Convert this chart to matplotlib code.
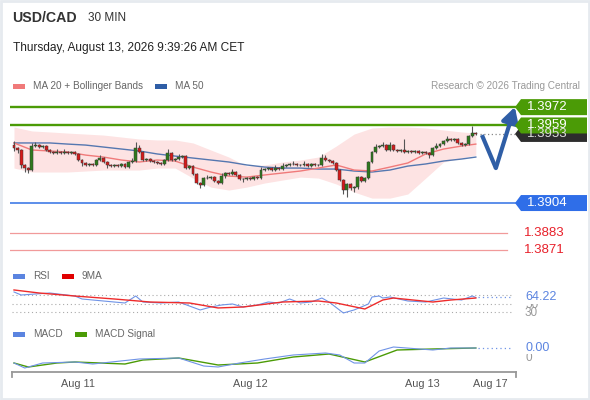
import matplotlib
matplotlib.use('Agg')
import matplotlib.pyplot as plt
import numpy as np
from matplotlib.patches import Polygon, Rectangle
from matplotlib.transforms import blended_transform_factory

plt.rcParams['font.family'] = ['Liberation Sans', 'DejaVu Sans']

# USD/CAD 30 min candles (closes)
closes = [1.39430, 1.39416, 1.39310, 1.39288, 1.39274, 1.39444, 1.39451, 1.39437, 1.39444, 1.39416,
          1.39402, 1.39395, 1.39402, 1.39395, 1.39402, 1.39395, 1.39402, 1.39388, 1.39345, 1.39324,
          1.39310, 1.39317, 1.39310, 1.39345, 1.39359, 1.39331, 1.39310, 1.39302, 1.39310, 1.39302,
          1.39317, 1.39295, 1.39331, 1.39338, 1.39430, 1.39402, 1.39345, 1.39352, 1.39338, 1.39331,
          1.39324, 1.39317, 1.39345, 1.39395, 1.39345, 1.39352, 1.39366, 1.39373, 1.39288, 1.39302,
          1.39246, 1.39182, 1.39168, 1.39217, 1.39217, 1.39224, 1.39196, 1.39182, 1.39231, 1.39253,
          1.39246, 1.39260, 1.39239, 1.39210, 1.39210, 1.39217, 1.39210, 1.39224, 1.39217, 1.39274,
          1.39281, 1.39288, 1.39274, 1.39288, 1.39281, 1.39302, 1.39310, 1.39317, 1.39317, 1.39310,
          1.39310, 1.39317, 1.39302, 1.39317, 1.39310, 1.39310, 1.39359, 1.39345, 1.39338, 1.39324,
          1.39274, 1.39203, 1.39132, 1.39175, 1.39146, 1.39153, 1.39224, 1.39196, 1.39217, 1.39331,
          1.39402, 1.39437, 1.39444, 1.39451, 1.39416, 1.39451, 1.39416, 1.39409, 1.39416, 1.39402,
          1.39409, 1.39402, 1.39409, 1.39395, 1.39402, 1.39395, 1.39380, 1.39430, 1.39444, 1.39458,
          1.39480, 1.39494, 1.39487, 1.39494, 1.39466, 1.39451, 1.39458, 1.39515, 1.39536, 1.39529]
first_open = 1.39451
# wick lengths in pips above / below the body
up_wick = [3, 1, 1, 1, 1, 2, 2, 1, 1, 1,
           1, 1, 2, 1, 2, 1, 1, 1, 1, 1,
           1, 1, 1, 1, 2, 1, 1, 1, 1, 1,
           1, 1, 1, 2, 4, 2, 1, 1, 1, 1,
           1, 1, 1, 3, 1, 1, 2, 1, 1, 1,
           1, 1, 1, 1, 2, 1, 1, 1, 2, 1,
           1, 2, 1, 1, 1, 1, 1, 1, 1, 2,
           1, 1, 1, 2, 1, 2, 1, 1, 2, 1,
           1, 2, 1, 1, 1, 1, 3, 2, 1, 1,
           1, 1, 1, 1, 1, 1, 1, 1, 1, 1,
           1, 2, 1, 2, 1, 2, 1, 1, 1, 8,
           1, 1, 1, 1, 1, 1, 1, 1, 2, 1,
           1, 2, 1, 1, 1, 1, 1, 1, 5, 1]
low_wick = [2, 2, 2, 3, 2, 1, 1, 1, 1, 1,
            1, 1, 1, 1, 1, 1, 1, 1, 1, 2,
            1, 1, 1, 1, 1, 1, 2, 1, 1, 1,
            1, 1, 1, 1, 1, 1, 1, 1, 1, 1,
            1, 1, 1, 1, 1, 1, 1, 1, 1, 1,
            1, 1, 2, 1, 1, 1, 1, 1, 1, 1,
            1, 1, 1, 1, 2, 1, 1, 1, 1, 1,
            1, 1, 1, 1, 1, 1, 1, 1, 1, 1,
            1, 1, 1, 1, 1, 1, 1, 1, 1, 1,
            1, 1, 3, 5, 1, 3, 1, 1, 1, 1,
            1, 1, 1, 1, 1, 1, 1, 1, 1, 1,
            1, 1, 1, 1, 1, 1, 2, 1, 1, 1,
            1, 1, 1, 1, 1, 1, 1, 1, 1, 1]

# moving averages and bollinger bands, sampled every 5 candles
ma_idx = [0, 5, 10, 15, 20, 25, 30, 35, 40, 45, 50, 55, 60, 65, 70, 75, 80, 85, 90, 95,
          100, 105, 110, 115, 120, 125, 129]
ma20 = [1.39466, 1.39416, 1.39409, 1.39402, 1.39380, 1.39366, 1.39345, 1.39331, 1.39345, 1.39338,
        1.39295, 1.39260, 1.39231, 1.39224, 1.39239, 1.39253, 1.39267, 1.39288, 1.39310, 1.39274,
        1.39267, 1.39295, 1.39324, 1.39388, 1.39423, 1.39444, 1.39458]
ma50 = [1.39466, 1.39466, 1.39466, 1.39458, 1.39451, 1.39437, 1.39423, 1.39409, 1.39388, 1.39373,
        1.39359, 1.39345, 1.39331, 1.39310, 1.39295, 1.39288, 1.39288, 1.39281, 1.39281, 1.39267,
        1.39260, 1.39274, 1.39302, 1.39317, 1.39338, 1.39352, 1.39366]
bb_up = [1.39579, 1.39551, 1.39544, 1.39536, 1.39529, 1.39522, 1.39508, 1.39494, 1.39487, 1.39487,
         1.39466, 1.39416, 1.39366, 1.39302, 1.39310, 1.39331, 1.39345, 1.39366, 1.39444, 1.39529,
         1.39572, 1.39579, 1.39579, 1.39572, 1.39558, 1.39544, 1.39536]
bb_low = [1.39288, 1.39260, 1.39260, 1.39260, 1.39267, 1.39274, 1.39274, 1.39274, 1.39288, 1.39288,
          1.39217, 1.39153, 1.39132, 1.39153, 1.39182, 1.39203, 1.39224, 1.39217, 1.39175, 1.39118,
          1.39075, 1.39075, 1.39104, 1.39217, 1.39331, 1.39359, 1.39380]

resistances = [1.3972, 1.3959]
support = 1.3904
extra_levels = [1.3883, 1.3871]
last_price = 1.3953

rsi_idx = [0, 2, 10, 17, 19, 28, 31, 34, 36, 41, 46, 49, 52, 55, 58, 61, 64, 68, 71, 74,
           77, 80, 83, 86, 88, 92, 95, 97, 99, 100, 102, 103, 105, 110, 115, 120, 125, 128, 129]
rsi_val = [77.1, 70.0, 74.7, 67.6, 60.6, 53.5, 51.2, 67.6, 53.5, 51.2, 53.5, 44.1, 34.8, 41.8,
           46.5, 48.9, 41.8, 46.5, 53.5, 51.2, 60.6, 51.2, 53.5, 62.9, 53.5, 27.7, 34.8, 41.8,
           48.9, 65.3, 67.6, 62.9, 65.3, 55.9, 53.5, 62.9, 58.2, 67.6, 64.22]
rsi_ma_idx = [0, 7, 17, 28, 38, 49, 57, 64, 75, 85, 90, 98, 103, 106, 117, 122, 129]
rsi_ma_val = [81.8, 74.7, 67.6, 60.6, 53.5, 51.2, 39.5, 41.8, 53.5, 55.9, 51.2, 37.1, 58.2,
              62.9, 53.5, 58.2, 62.9]

macd_idx = [0, 3, 8, 17, 22, 35, 46, 53, 57, 63, 70, 78, 87, 91, 95, 98, 102, 106, 117, 122, 129]
macd_val = [-0.00006, -0.00011, -0.00006, -0.00005, -0.00007, -0.00002, -0.00001, -0.00009,
            -0.00010, -0.00006, -0.00002, 0.00002, 0.00004, 0.00002, -0.00006, -0.00006,
            0.00006, 0.00010, 0.00007, 0.00009, 0.00009]
sig_idx = [0, 4, 12, 17, 31, 36, 46, 57, 68, 78, 88, 98, 107, 117, 129]
sig_val = [-0.00006, -0.00010, -0.00006, -0.00005, -0.00007, -0.00003, -0.00001, -0.00008,
           -0.00006, 0.0, 0.00003, -0.00005, 0.00007, 0.00008, 0.00009]

day_idx = [17.9, 65.9, 114.0, 133.0]
day_labels = ['Aug 11', 'Aug 12', 'Aug 13', 'Aug 17']

W, H = 590, 400
X0, STEP = 14, 3.58
xlim = ((10 - X0) / STEP, (590 - X0) / STEP)

fig = plt.figure(figsize=(W / 100, H / 100), dpi=100)
fig.patch.set_facecolor('white')


def px_axes(x0, y0, x1, y1):
    a = fig.add_axes([x0 / W, 1 - y1 / H, (x1 - x0) / W, (y1 - y0) / H])
    a.set_xlim(*xlim)
    a.axis('off')
    return a


GREEN = '#4b9b06'
BLUE = '#2f6ee8'
CAND_G = '#2e7a1c'
CAND_R = '#d61a1a'

# ---- price panel ----
ax = px_axes(10, 95, 590, 262)
ax.set_ylim(1.38622, 1.39806)

ax.fill_between(ma_idx, bb_low, bb_up, color='#fde3e3', lw=0, zorder=1)
ax.plot(ma_idx, ma50, color='#5577b0', lw=1, zorder=2)
ax.plot(ma_idx, ma20, color='#f07a7a', lw=1, zorder=2)

idx = np.arange(len(closes))
c = np.array(closes)
o = np.array([first_open] + closes[:-1])
hi = np.maximum(o, c) + np.array(up_wick) * 1e-4
lo = np.minimum(o, c) - np.array(low_wick) * 1e-4
ax.vlines(idx, lo, hi, color='#555555', lw=0.8, zorder=3)
flat = np.abs(c - o) < 4e-5
body = np.where(flat, 4e-5, c - o)
cols = [CAND_G if cc >= oo else CAND_R for cc, oo in zip(c, o)]
ax.bar(idx, body, bottom=np.where(flat, o - 2e-5, o), width=0.82,
       color=cols, edgecolor='#3a3a3a', linewidth=0.35, zorder=4)

line_end = (515 - 10) / 580
for lv in resistances:
    ax.axhline(lv, xmin=0, xmax=line_end, color=GREEN, lw=1.7, zorder=2)
ax.axhline(support, xmin=0, xmax=line_end, color='#4f86e8', lw=1.3, zorder=2)
for lv in extra_levels:
    ax.axhline(lv, xmin=0, xmax=(507 - 10) / 580, color='#f19a9a', lw=0.9, zorder=2)
ax.axhline(last_price, xmin=(480 - 10) / 580, xmax=line_end, color='#888888', lw=0.9,
           ls=(0, (1, 2)), zorder=2)

# forecast arrow
ax.plot([130.7, 134.6], [1.39522, 1.39288], color='#2f5ea6', lw=3, solid_capstyle='butt',
        zorder=5)
ax.annotate('', xy=(139.9, 1.39721), xytext=(134.6, 1.39288),
            arrowprops=dict(arrowstyle='-|>,head_width=0.5,head_length=0.9', lw=3,
                            color='#2f5ea6', shrinkA=0, shrinkB=0), zorder=5)

# price tags
ov = fig.add_axes([0, 0, 1, 1])
ov.set_xlim(0, W)
ov.set_ylim(H, 0)
ov.axis('off')
ov.patch.set_alpha(0)
bt = blended_transform_factory(ov.transData, ax.transData)
hh = 8 / 1.41 * 1e-4


def tag(price, face, txt_color='white'):
    pts = [(515, price), (521, price + hh), (587, price + hh), (587, price - hh), (521, price - hh)]
    ax.add_patch(Polygon(pts, closed=True, facecolor=face, edgecolor='none',
                         transform=bt, clip_on=False, zorder=6))
    ax.text(527, price, f'{price:.4f}', transform=bt, color=txt_color, fontsize=9.5,
            va='center', ha='left', clip_on=False, zorder=7)


tag(last_price, '#2d2d2d', '#dddddd')
tag(resistances[0], GREEN)
tag(resistances[1], GREEN)
tag(support, BLUE)
for lv in extra_levels:
    ax.text(524, lv, f'{lv:.4f}', transform=bt, color='#e8202a', fontsize=9.5,
            va='center', ha='left', clip_on=False)

# ---- RSI panel ----
ar = px_axes(10, 285, 590, 322)
ar.set_ylim(6.5, 93.5)
for lv in [70, 50, 30]:
    ar.axhline(lv, xmin=2 / 580, xmax=(513 - 10) / 580, color='#aaaaaa', lw=0.8, ls=(0, (1, 2.5)))
ar.plot(rsi_idx, rsi_val, color='#6f93e6', lw=0.8)
ar.plot(rsi_ma_idx, rsi_ma_val, color='#ee2b2b', lw=1)
ar.axhline(rsi_val[-1], xmin=(478 - 10) / 580, xmax=(513 - 10) / 580, color='#6f93e6', lw=0.9,
           ls=(0, (1, 2.5)))
rt = blended_transform_factory(ov.transData, ar.transData)
ar.text(525, 47, '50', transform=rt, color='#999999', fontsize=8.5, va='center', clip_on=False)
ar.text(525, 28, '30', transform=rt, color='#999999', fontsize=8.5, va='center', clip_on=False)
ar.text(525, rsi_val[-1], f'{rsi_val[-1]:.2f}', transform=rt, color='#5b84e0', fontsize=9,
        va='center', clip_on=False, bbox=dict(facecolor='white', edgecolor='none', pad=0.2))

# ---- MACD panel ----
am = px_axes(10, 338, 590, 372)
am.set_ylim(-0.00015, 0.00019)
am.plot(sig_idx, sig_val, color='#4b9b06', lw=1)
am.plot(macd_idx, macd_val, color='#6f93e6', lw=0.8)
am.axhline(macd_val[-1], xmin=(478 - 10) / 580, xmax=(513 - 10) / 580, color='#6f93e6', lw=0.9,
           ls=(0, (1, 2.5)))
mt = blended_transform_factory(ov.transData, am.transData)
am.text(525, -0.00001, '0', transform=mt, color='#999999', fontsize=8.5, va='center',
        clip_on=False)
am.text(525, macd_val[-1], '0.00', transform=mt, color='#5b84e0', fontsize=9, va='center',
        clip_on=False, bbox=dict(facecolor='white', edgecolor='none', pad=0.2))

# time axis
ov.plot([12, 516], [372, 372], color='#999999', lw=1.3)
ov.plot([12, 12], [372, 377], color='#999999', lw=1.3)
ov.plot([516, 516], [372, 377], color='#999999', lw=1.3)
xt = blended_transform_factory(am.transData, ov.transData)
for d, lab in zip(day_idx, day_labels):
    ov.text(d, 384, lab, transform=xt, ha='center', va='center', fontsize=7.8, color='#555555')

# ---- header & legends ----
ov.text(12, 18, 'USD/CAD', fontsize=10.2, fontweight='bold', color='#333333', va='center')
ov.text(88, 18, '30 MIN', fontsize=8.5, color='#333333', va='center')
ov.text(13, 48, 'Thursday, August 13, 2026 9:39:26 AM CET', fontsize=8.6, color='#222222',
        va='center')


def swatch(x, y, color):
    ov.add_patch(Rectangle((x, y - 2.5), 12, 5, facecolor=color, edgecolor='none'))


swatch(13, 86, '#f07a7a')
ov.text(33, 86, 'MA 20 + Bollinger Bands', fontsize=7.2, color='#666666', va='center')
swatch(155, 86, '#2f5ea6')
ov.text(175, 86, 'MA 50', fontsize=7.2, color='#666666', va='center')
ov.text(580, 86, 'Research © 2026 Trading Central', fontsize=7.2, color='#999999', va='center',
        ha='right')

swatch(13, 276, '#5b84e0')
ov.text(33, 276, 'RSI', fontsize=7.2, color='#666666', va='center')
swatch(62, 276, '#e00000')
ov.text(82, 276, '9MA', fontsize=7.2, color='#666666', va='center')
swatch(13, 334, '#5b84e0')
ov.text(33, 334, 'MACD', fontsize=7.2, color='#666666', va='center')
swatch(75, 334, '#4b9b06')
ov.text(95, 334, 'MACD Signal', fontsize=7.2, color='#666666', va='center')

# light frame
ov.add_patch(Rectangle((0.5, 0.5), W - 1.5, H - 1.5, facecolor='none', edgecolor='#e6eaef', lw=2))

fig.savefig('out.png', dpi=100)
